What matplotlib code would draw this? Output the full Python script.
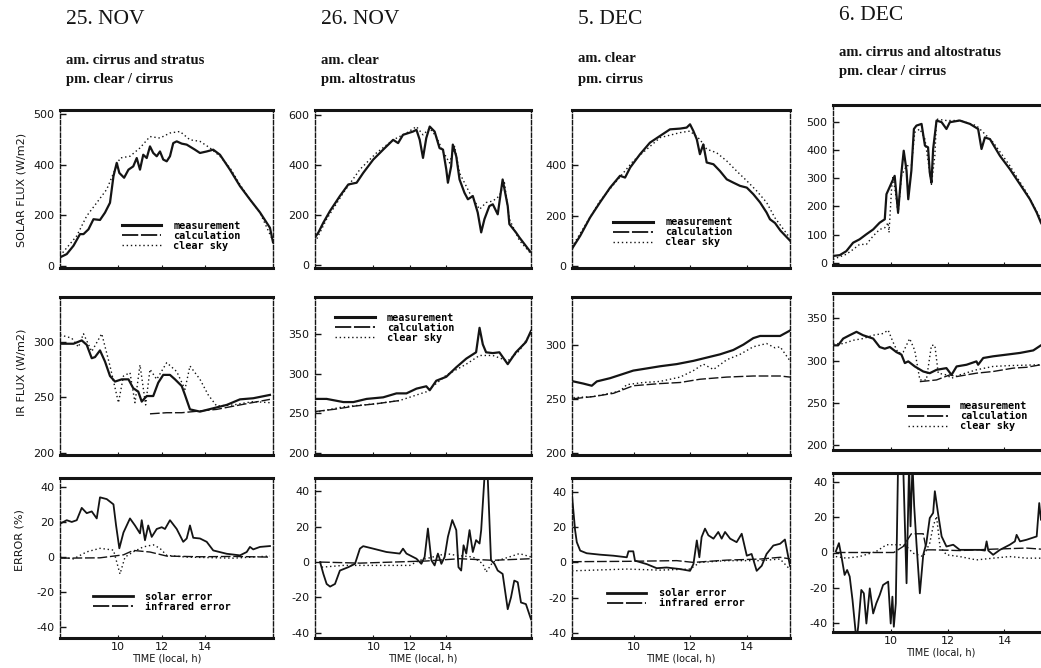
import matplotlib
matplotlib.use("Agg")
import matplotlib.pyplot as plt
from matplotlib.lines import Line2D

# ---------------- 25. NOV ----------------
nov25_sol_t = [7.33, 7.64, 7.95, 8.25, 8.41, 8.64, 8.87, 9.17, 9.40, 9.63, 9.79, 9.94, 10.06, 10.28,
               10.48, 10.70, 10.86, 11.01, 11.16, 11.32, 11.47, 11.62, 11.78, 11.93, 12.08, 12.24,
               12.39, 12.54, 12.70, 12.93, 13.16, 13.54, 13.77, 14.08, 14.38, 14.69, 15.15, 15.61,
               16.07, 16.53, 16.99, 17.13]
nov25_sol_meas = [33, 46, 79, 125, 125, 144, 184, 181, 210, 249, 354, 407, 367, 348, 380, 393, 426,
                  380, 439, 426, 472, 446, 433, 452, 420, 413, 433, 485, 492, 483, 479, 459, 446, 452,
                  459, 439, 380, 315, 262, 211, 150, 93]
nov25_sol_clear_t = [7.33, 8.10, 8.56, 9.02, 9.48, 9.86, 10.09, 10.55, 11.01, 11.47, 11.93, 12.39,
                     12.85, 13.31, 13.77, 14.23, 14.69, 15.15, 15.61, 16.07, 16.53, 17.13]
nov25_sol_clear = [39, 118, 197, 249, 302, 380, 426, 433, 466, 511, 505, 525, 531, 498, 492, 466, 433,
                   387, 321, 262, 210, 98]

nov25_ir_t = [7.33, 7.95, 8.33, 8.56, 8.79, 8.94, 9.17, 9.40, 9.63, 9.86, 10.17, 10.48, 10.70, 10.93,
              11.09, 11.32, 11.62, 11.85, 12.08, 12.39, 12.62, 12.93, 13.08, 13.31, 13.77, 14.38, 15.00,
              15.61, 16.22, 16.99]
nov25_ir_meas = [298, 298, 301, 297, 285, 286, 292, 282, 269, 264, 266, 266, 258, 255, 246, 251, 251,
                 263, 270, 270, 266, 260, 252, 239, 237, 240, 243, 248, 249, 252]
nov25_ir_clear_t = [7.33, 7.87, 8.18, 8.41, 8.79, 9.25, 9.63, 10.02, 10.25, 10.55, 10.78, 11.01, 11.27,
                    11.47, 11.78, 12.24, 12.70, 13.08, 13.31, 13.77, 14.15, 14.54, 15.30, 16.22, 16.99]
nov25_ir_clear = [306, 303, 295, 307, 291, 307, 278, 245, 269, 272, 245, 279, 243, 275, 266, 281, 273,
                  257, 278, 266, 252, 242, 243, 246, 245]
nov25_ir_calc_t = [11.47, 12.24, 12.93, 13.46, 14.54, 15.61, 16.99]
nov25_ir_calc = [235, 236, 236, 237, 239, 243, 248]

nov25_err_t = [7.33, 7.64, 7.87, 8.10, 8.33, 8.56, 8.79, 9.02, 9.17, 9.48, 9.79, 9.91, 10.06, 10.25,
               10.55, 10.78, 11.01, 11.09, 11.24, 11.39, 11.55, 11.78, 12.01, 12.16, 12.39, 12.70,
               13.00, 13.16, 13.31, 13.46, 13.77, 14.08, 14.38, 15.00, 15.61, 15.92, 16.07, 16.22,
               16.53, 16.99]
nov25_err_solar = [19, 21, 20, 21, 28, 25, 26, 22, 34, 33, 30, 18, 5, 14, 22, 18, 13.5, 21, 9.6, 18,
                   11.5, 16, 17, 16, 21, 16, 8.7, 10.6, 18, 11, 10.6, 8.7, 3.8, 1.9, 1, 2.9, 5.8, 4.4,
                   5.8, 6.3]
nov25_err_dot_t = [7.33, 7.95, 8.56, 9.17, 9.79, 10.09, 10.32, 10.70, 11.16, 11.62, 11.93, 12.24,
                   13.16, 15.30, 16.99]
nov25_err_dot = [0, -1, 3, 5, 4, -9.6, 0, 3, 5.8, 7, 5, 1, 0, -0.6, 0.6]
nov25_err_ir_t = [7.33, 9.17, 10.25, 10.70, 11.47, 12.24, 13.77, 15.30, 16.99]
nov25_err_ir = [-0.6, -0.4, 1.3, 3.8, 2.9, 0.6, 0.2, 0.4, 0]

# ---------------- 26. NOV ----------------
nov26_sol_t = [6.79, 6.98, 7.25, 7.62, 8.16, 8.62, 9.08, 9.44, 9.99, 10.54, 11.09, 11.36, 11.63,
               12.18, 12.37, 12.55, 12.73, 12.91, 13.10, 13.37, 13.64, 13.83, 14.01, 14.10, 14.28,
               14.37, 14.56, 14.74, 15.01, 15.20, 15.47, 15.74, 15.93, 16.11, 16.38, 16.57, 16.84,
               17.11, 17.39, 17.48, 17.84, 18.03, 18.63]
nov26_sol_meas = [112, 132, 171, 218, 277, 323, 330, 369, 422, 462, 501, 488, 521, 534, 541, 501, 429,
                  508, 554, 534, 468, 462, 383, 330, 396, 482, 435, 343, 290, 264, 277, 211, 132, 185,
                  237, 244, 204, 343, 237, 165, 132, 112, 55]
nov26_sol_clear_t = [6.79, 7.43, 8.35, 9.26, 10.17, 11.09, 11.82, 12.37, 12.73, 13.10, 13.46, 13.83,
                     14.19, 14.47, 14.74, 15.29, 15.84, 16.20, 16.57, 16.93, 17.21, 17.48, 18.03, 18.63]
nov26_sol_clear = [92, 185, 290, 383, 449, 501, 528, 554, 521, 547, 514, 455, 409, 475, 369, 290, 224,
                   251, 257, 277, 330, 185, 100, 50]

nov26_ir_t = [6.79, 7.43, 8.35, 8.90, 9.63, 10.54, 11.27, 11.82, 12.37, 12.91, 13.10, 13.46, 14.01,
              14.56, 15.11, 15.65, 15.84, 16.02, 16.20, 16.57, 16.93, 17.39, 17.84, 18.39, 18.67]
nov26_ir_meas = [268, 268, 264, 264, 268, 270, 275, 275, 281, 284, 279, 291, 296, 308, 319, 327, 358,
                 337, 327, 326, 327, 312, 327, 340, 354]
nov26_ir_clear_t = [6.79, 8.35, 10.17, 11.45, 12.91, 14.01, 15.11, 15.84, 16.57, 17.39, 18.03, 18.67]
nov26_ir_clear = [251, 258, 262, 266, 277, 298, 312, 323, 323, 316, 329, 352]
nov26_ir_calc_t = [6.79, 7.90, 9.00, 10.20, 11.45]
nov26_ir_calc = [252, 255, 259, 262, 266]

nov26_err_t = [7.07, 7.25, 7.43, 7.62, 7.89, 8.16, 8.62, 8.99, 9.26, 9.44, 9.99, 10.72, 11.45, 11.63,
               11.82, 12.37, 12.64, 12.82, 13.00, 13.19, 13.37, 13.55, 13.74, 13.92, 14.10, 14.34,
               14.56, 14.68, 14.83, 14.96, 15.11, 15.29, 15.47, 15.65, 15.84, 15.93, 16.11, 16.29,
               16.47, 16.66, 16.84, 17.11, 17.39, 17.57, 17.75, 17.94, 18.12, 18.39, 18.67]
nov26_err_solar = [0, -6.7, -12.4, -13.9, -12.4, -4.8, -2.9, -1, 7.6, 9, 7.6, 5.7, 4.8, 7.6, 4.8, 1.9,
                   -1, 2.9, 19, 1, -1.9, 4.8, -1, 2.9, 14.3, 23.8, 18.1, -2.9, -4.8, 9.5, 4.8, 18.1,
                   5.7, 12.4, 10.5, 18.1, 48, 48, 1, -1, -4.8, -6.7, -26.7, -20, -10.5, -11.4, -22.9,
                   -23.8, -32.4]
nov26_err_dot_t = [7.16, 8.35, 9.26, 12.00, 12.55, 13.28, 14.01, 14.56, 15.47, 16.02, 16.20, 16.57,
                   17.48, 18.03, 18.67]
nov26_err_dot = [-2.9, -1.9, -1.9, -1.9, 1, 2.9, 4.8, 3.8, 2.9, -1, -5.7, 0, 2.9, 4.8, 2.9]
nov26_err_ir_t = [7.07, 9.26, 12.91, 14.74, 16.57, 18.67]
nov26_err_ir = [0, -0.6, 0.6, 1.9, 1, 1.9]

# ---------------- 5. DEC ----------------
dec5_sol_t = [7.81, 8.11, 8.46, 8.81, 9.17, 9.52, 9.70, 9.88, 10.23, 10.58, 10.94, 11.29, 11.65,
              11.88, 12.00, 12.12, 12.24, 12.35, 12.47, 12.59, 12.83, 13.06, 13.30, 13.53, 13.77,
              14.01, 14.24, 14.48, 14.71, 14.83, 15.01, 15.20, 15.54]
dec5_sol_meas = [66, 119, 192, 252, 311, 358, 351, 391, 444, 490, 517, 543, 546, 550, 563, 536, 503,
                 444, 483, 411, 404, 377, 344, 331, 318, 311, 285, 252, 212, 185, 170, 140, 100]
dec5_sol_clear_t = [7.81, 8.81, 9.99, 10.94, 11.65, 12.00, 12.35, 12.59, 12.94, 13.30, 13.65, 14.01,
                    14.36, 14.71, 15.01, 15.54]
dec5_sol_clear = [73, 258, 417, 510, 530, 536, 503, 464, 450, 417, 377, 338, 298, 252, 190, 110]

dec5_ir_t = [7.87, 8.22, 8.52, 8.70, 9.17, 9.64, 9.99, 10.47, 10.94, 11.53, 12.12, 12.59, 13.06,
             13.53, 13.89, 14.24, 14.48, 14.71, 15.19, 15.54]
dec5_ir_meas = [266, 264, 262, 266, 269, 273, 276, 278, 280, 282, 285, 288, 291, 295, 300, 306, 308,
                308, 308, 313]
dec5_ir_clear_t = [7.87, 8.58, 9.52, 9.76, 10.35, 10.94, 11.65, 12.12, 12.47, 12.83, 13.30, 13.77,
                   14.24, 14.71, 15.01, 15.19, 15.54]
dec5_ir_clear = [251, 252, 257, 263, 265, 266, 270, 276, 282, 277, 286, 291, 298, 301, 297, 298, 285]
dec5_ir_calc_t = [7.87, 8.58, 9.29, 9.99, 10.94, 11.65, 12.35, 13.30, 14.24, 15.19, 15.54]
dec5_ir_calc = [250, 252, 255, 262, 264, 265, 268, 270, 271, 271, 270]

dec5_err_t = [7.82, 7.93, 7.99, 8.11, 8.34, 8.81, 9.29, 9.76, 9.82, 9.99, 10.05, 10.47, 10.82, 11.17,
              11.65, 12.00, 12.12, 12.24, 12.33, 12.41, 12.53, 12.65, 12.83, 13.00, 13.12, 13.24,
              13.42, 13.65, 13.83, 14.01, 14.18, 14.36, 14.54, 14.71, 14.95, 15.19, 15.36, 15.54]
dec5_err_solar = [38, 18.3, 11.5, 6.7, 5.2, 4.4, 3.8, 2.9, 6.3, 6.3, 1, -1, -3.3, -2.9, -3.8, -4.8,
                  -1, 12.5, 2.9, 14.4, 19.2, 15.4, 13.5, 17.3, 13.5, 17.3, 13.5, 11.5, 16.3, 3.8, 4.8,
                  -4.8, -1.9, 4.8, 9.6, 10.6, 13, -2]
dec5_err_dot_t = [7.82, 8.58, 9.76, 10.94, 12.00, 12.35, 13.30, 14.48, 15.19, 15.54]
dec5_err_dot = [-4.8, -4.4, -3.8, -4.4, -3.8, 0, 1, 1, 1.9, -4]
dec5_err_ir_t = [7.82, 9.76, 11.53, 12.12, 13.30, 14.48, 15.19, 15.54]
dec5_err_ir = [0.4, 0.6, 1, 0, 1.3, 1.9, 2.9, 2]

# ---------------- 6. DEC ----------------
dec6_sol_t = [7.94, 8.18, 8.41, 8.65, 8.88, 9.12, 9.36, 9.59, 9.77, 9.83, 10.12, 10.24, 10.36, 10.44,
              10.54, 10.60, 10.71, 10.80, 10.89, 11.07, 11.19, 11.30, 11.36, 11.42, 11.48, 11.60,
              11.78, 11.95, 12.07, 12.42, 12.78, 13.07, 13.19, 13.31, 13.49, 13.84, 14.19, 14.55,
              14.90, 15.14, 15.29, 15.54]
dec6_sol_meas = [24, 27, 41, 71, 83, 101, 118, 142, 154, 243, 308, 178, 320, 397, 326, 225, 326, 474,
                 486, 492, 415, 409, 320, 284, 403, 504, 498, 474, 498, 504, 492, 474, 403, 444, 438,
                 379, 332, 278, 225, 178, 142, 100]
dec6_sol_clear_t = [7.94, 8.41, 8.65, 8.88, 9.12, 9.36, 9.59, 9.77, 9.89, 9.92, 10.01, 10.06, 10.18,
                    10.24, 10.36, 10.54, 10.71, 10.77, 10.83, 11.01, 11.19, 11.36, 11.42, 11.54, 11.60,
                    11.95, 12.42, 13.01, 13.60, 14.19, 14.78, 15.29, 15.54]
dec6_sol_clear = [12, 30, 47, 65, 65, 95, 118, 124, 142, 107, 261, 308, 225, 172, 308, 344, 344, 403,
                  462, 474, 438, 320, 278, 379, 509, 504, 504, 486, 427, 344, 249, 154, 110]

dec6_ir_t = [7.94, 8.12, 8.30, 8.53, 8.77, 9.00, 9.36, 9.59, 9.77, 9.95, 10.18, 10.36, 10.48, 10.60,
             10.83, 11.13, 11.36, 11.60, 11.95, 12.13, 12.31, 12.66, 13.01, 13.07, 13.25, 13.60,
             14.08, 14.55, 15.02, 15.29, 15.54]
dec6_ir_meas = [318, 318, 326, 330, 334, 330, 326, 316, 314, 316, 310, 307, 297, 299, 293, 287, 285,
                289, 291, 283, 293, 295, 299, 295, 303, 305, 307, 309, 312, 318, 322]
dec6_ir_clear_t = [7.94, 8.30, 8.65, 9.00, 9.36, 9.71, 9.89, 10.06, 10.24, 10.42, 10.65, 10.83, 11.01,
                   11.24, 11.42, 11.54, 11.66, 11.95, 12.13, 12.42, 13.01, 13.60, 14.19, 15.29, 15.54]
dec6_ir_clear = [320, 320, 324, 326, 330, 332, 336, 322, 309, 310, 326, 312, 277, 277, 318, 318, 285,
                 283, 279, 283, 289, 293, 294, 295, 296]
dec6_ir_calc_t = [11.01, 11.60, 12.07, 12.31, 13.01, 13.60, 14.31, 14.78, 15.29, 15.54]
dec6_ir_calc = [275, 277, 283, 281, 285, 287, 291, 292, 295, 296]

dec6_err_t = [8.04, 8.15, 8.24, 8.35, 8.44, 8.53, 8.63, 8.77, 8.83, 8.94, 9.03, 9.12, 9.24, 9.36, 9.47,
              9.59, 9.71, 9.89, 9.98, 10.04, 10.09, 10.16, 10.24, 10.30, 10.42, 10.54, 10.63, 10.68,
              10.75, 10.81, 10.89, 11.01, 11.13, 11.24, 11.36, 11.48, 11.54, 11.66, 11.78, 11.95,
              12.19, 12.42, 12.66, 13.13, 13.31, 13.37, 13.43, 13.60, 13.84, 14.19, 14.37, 14.43,
              14.55, 14.78, 15.14, 15.23, 15.29]
dec6_err_solar = [0.6, 5.3, -2.3, -12.7, -9.9, -13.6, -26.9, -50, -42, -21.2, -23.1, -40.2, -20.3,
                  -34.5, -28.8, -24.1, -18.4, -16.5, -40.2, -25, -42, -28.8, 50, 50, 50, -17.4, 50,
                  14.8, 50, 26.2, 5.3, -23.1, -1.3, 5.3, 19.5, 22.4, 34.7, 21.4, 9.1, 3.4, 4.4, 1.5,
                  1.5, 1.5, 1.1, 6.3, 1.1, -1.3, 1.5, 4.4, 6.3, 10, 6.3, 7.2, 9.1, 28, 18.6]
dec6_err_dot_t = [8.04, 8.41, 8.88, 9.47, 9.83, 10.30, 10.54, 10.77, 11.13, 11.36, 11.48, 11.60,
                  11.72, 11.95, 12.42, 13.01, 13.60, 14.19, 14.78, 15.29]
dec6_err_dot = [-2.3, -3.2, -2.3, 0.6, 4.4, 4.4, 3.4, -0.4, -2.3, 5.3, 14.8, 20.5, 3.4, -1.3, -2.3,
                -4.2, -3.2, -2.3, -3.2, -3.2]
dec6_err_ir_t = [8.04, 10.09, 10.42, 10.71, 10.89, 11.13, 11.24, 11.48, 12.42, 13.60, 14.78, 15.29]
dec6_err_ir = [0, 0, 3.4, 10.6, 10.6, 10.6, 1.5, 1.5, 1.1, 1.9, 2.5, 1.9]

# headings
days = ["25. NOV", "26. NOV", "5. DEC", "6. DEC"]
am_text = ["am. cirrus and stratus", "am. clear", "am. clear", "am. cirrus and altostratus"]
pm_text = ["pm. clear / cirrus", "pm. altostratus", "pm. cirrus", "pm. clear / cirrus"]

xlims = [(7.33, 17.13), (6.79, 18.67), (7.82, 15.54), (7.94, 15.54)]
sol_ylims = [(-9, 616), (-10, 620), (-9, 620), (-8, 559)]
ir_ylims = [(198, 340), (197, 397), (198, 344), (194, 380)]
err_ylims = [(-46, 45), (-43, 47.6), (-43, 48), (-45, 45)]
sol_ticks = [[0, 200, 400, 600], [0, 200, 400, 600], [0, 200, 400], [0, 100, 200, 300, 400, 500]]
sol_ticklabels = [["0", "200", "400", "500"], ["0", "200", "400", "600"], ["0", "200", "400"],
                  ["0", "100", "200", "300", "400", "500"]]
ir_ticks = [[200, 250, 300], [200, 250, 300, 350], [200, 250, 300], [200, 250, 300, 350]]
err_ticks = [-40, -20, 0, 20, 40]

# ---------------- layout (pixels of a 1041x668 page) ----------------
W, H = 1041, 668
col_px = [(60, 273), (315, 531), (572, 790), (833, 1048)]
row_px = [[(110, 268), (297, 455), (478, 638)]] * 3 + [[(105, 265), (293, 450), (473, 632)]]

INK = "#141414"
plt.rcParams["font.family"] = "DejaVu Sans"
plt.rcParams["axes.unicode_minus"] = False

fig = plt.figure(figsize=(W / 100, H / 100), dpi=100)
fig.patch.set_facecolor("white")


def make_ax(c, r):
    x0, x1 = col_px[c]
    y0, y1 = row_px[c][r]
    ax = fig.add_axes([x0 / W, 1 - y1 / H, (x1 - x0) / W, (y1 - y0) / H])
    for s in ("top", "bottom"):
        ax.spines[s].set_linewidth(2.2)
        ax.spines[s].set_color(INK)
    for s in ("left", "right"):
        ax.spines[s].set_linewidth(1.0)
        ax.spines[s].set_linestyle((0, (3, 1.5)))
        ax.spines[s].set_color(INK)
    ax.set_xlim(xlims[c])
    ax.set_xticks([10, 12, 14])
    ax.tick_params(axis="both", direction="in", colors=INK, labelsize=8)
    ax.tick_params(axis="y", length=4, width=1, pad=4)
    ax.tick_params(axis="x", length=2, width=0.8, pad=3)
    if r < 2:
        ax.set_xticklabels([])
    else:
        ax.set_xlabel("TIME (local, h)", fontsize=7, color=INK, labelpad=1)
    return ax


meas_kw = dict(color=INK, lw=1.6, solid_joinstyle="round")
calc_kw = dict(color=INK, lw=1.0, ls=(0, (7, 2)))
clear_kw = dict(color=INK, lw=1.0, ls=(0, (1, 2)))
sol_err_kw = dict(color=INK, lw=1.3)
ir_err_kw = dict(color=INK, lw=1.0, ls=(0, (7, 2)))
dot_err_kw = dict(color=INK, lw=1.0, ls=(0, (1, 2)))

flux_handles = [Line2D([], [], color=INK, lw=2.2), Line2D([], [], color=INK, lw=1.3, ls=(0, (9, 1.5))),
                Line2D([], [], **clear_kw)]
flux_labels = ["measurement", "calculation", "clear sky"]
err_handles = [Line2D([], [], color=INK, lw=2.0), Line2D([], [], color=INK, lw=1.3, ls=(0, (9, 1.5)))]
err_labels = ["solar error", "infrared error"]


def add_legend(ax, handles, labels, x, y):
    ax.legend(handles, labels, loc="upper left", bbox_to_anchor=(x, y), frameon=False,
              borderpad=0, borderaxespad=0, handlelength=3.9, handletextpad=1.2,
              labelspacing=0.0, prop=dict(family="DejaVu Sans Mono", weight="bold", size=7.3))


sol_series = [(nov25_sol_t, nov25_sol_meas, nov25_sol_clear_t, nov25_sol_clear),
              (nov26_sol_t, nov26_sol_meas, nov26_sol_clear_t, nov26_sol_clear),
              (dec5_sol_t, dec5_sol_meas, dec5_sol_clear_t, dec5_sol_clear),
              (dec6_sol_t, dec6_sol_meas, dec6_sol_clear_t, dec6_sol_clear)]
ir_series = [(nov25_ir_t, nov25_ir_meas, nov25_ir_clear_t, nov25_ir_clear, nov25_ir_calc_t, nov25_ir_calc),
             (nov26_ir_t, nov26_ir_meas, nov26_ir_clear_t, nov26_ir_clear, nov26_ir_calc_t, nov26_ir_calc),
             (dec5_ir_t, dec5_ir_meas, dec5_ir_clear_t, dec5_ir_clear, dec5_ir_calc_t, dec5_ir_calc),
             (dec6_ir_t, dec6_ir_meas, dec6_ir_clear_t, dec6_ir_clear, dec6_ir_calc_t, dec6_ir_calc)]
err_series = [(nov25_err_t, nov25_err_solar, nov25_err_dot_t, nov25_err_dot, nov25_err_ir_t, nov25_err_ir),
              (nov26_err_t, nov26_err_solar, nov26_err_dot_t, nov26_err_dot, nov26_err_ir_t, nov26_err_ir),
              (dec5_err_t, dec5_err_solar, dec5_err_dot_t, dec5_err_dot, dec5_err_ir_t, dec5_err_ir),
              (dec6_err_t, dec6_err_solar, dec6_err_dot_t, dec6_err_dot, dec6_err_ir_t, dec6_err_ir)]

flux_legend_pos = {(0, 0): (0.29, 0.30), (2, 0): (0.19, 0.32), (1, 1): (0.093, 0.90), (3, 1): (0.35, 0.31)}
err_legend_pos = {0: (0.155, 0.29), 2: (0.16, 0.31)}

title_y = [(20, 60, 80), (20, 60, 80), (20, 59, 79), (15, 52, 72)]

for c in range(4):
    # solar
    ax = make_ax(c, 0)
    t, m, tc, cl = sol_series[c]
    ax.plot(tc, cl, **clear_kw)
    ax.plot(t, m, **meas_kw)
    ax.set_ylim(sol_ylims[c])
    ax.set_yticks(sol_ticks[c])
    ax.set_yticklabels(sol_ticklabels[c])
    if (c, 0) in flux_legend_pos:
        add_legend(ax, flux_handles, flux_labels, *flux_legend_pos[(c, 0)])

    # infrared
    ax = make_ax(c, 1)
    t, m, tc, cl, tk, ck = ir_series[c]
    ax.plot(tc, cl, **clear_kw)
    ax.plot(tk, ck, **calc_kw)
    ax.plot(t, m, **meas_kw)
    ax.set_ylim(ir_ylims[c])
    ax.set_yticks(ir_ticks[c])
    if (c, 1) in flux_legend_pos:
        add_legend(ax, flux_handles, flux_labels, *flux_legend_pos[(c, 1)])

    # error
    ax = make_ax(c, 2)
    t, s, td, d, ti, ir = err_series[c]
    ax.plot(td, d, **dot_err_kw)
    ax.plot(ti, ir, **ir_err_kw)
    ax.plot(t, s, **sol_err_kw)
    ax.set_ylim(err_ylims[c])
    ax.set_yticks(err_ticks)
    if c in err_legend_pos:
        add_legend(ax, err_handles, err_labels, *err_legend_pos[c])

    # headings
    x_txt = (col_px[c][0] + 6) / W
    ty, ay, py = title_y[c]
    fig.text(x_txt, 1 - ty / H, days[c], fontsize=15.5, family="Liberation Serif", color=INK, va="center")
    fig.text(x_txt, 1 - ay / H, am_text[c], fontsize=10.5, family="Liberation Serif", weight="bold",
             color=INK, va="center")
    fig.text(x_txt, 1 - py / H, pm_text[c], fontsize=10.5, family="Liberation Serif", weight="bold",
             color=INK, va="center")

fig.text(22 / W, 1 - 190 / H, "SOLAR FLUX (W/m2)", rotation=90, fontsize=8, color=INK, ha="center", va="center")
fig.text(22 / W, 1 - 372 / H, "IR FLUX (W/m2)", rotation=90, fontsize=8, color=INK, ha="center", va="center")
fig.text(20 / W, 1 - 540 / H, "ERROR (%)", rotation=90, fontsize=8, color=INK, ha="center", va="center")

fig.savefig("out.png", dpi=100, facecolor="white")
